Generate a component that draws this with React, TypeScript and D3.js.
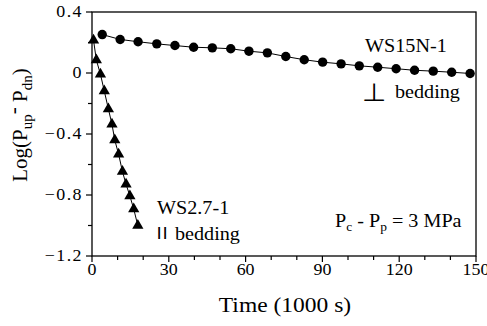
import React from "react";
import * as d3 from "d3";

// WS15N-1 (perpendicular to bedding), circles
const perpTime = [4, 11, 18, 25.3, 32.4, 39.7, 47, 54.2, 61.3, 68.5, 75.7, 82.9, 90.1, 97.3, 104.4, 111.6, 118.8, 126, 133.3, 140.5, 147.7];
const perpLog = [0.252, 0.22, 0.205, 0.191, 0.18, 0.169, 0.165, 0.159, 0.143, 0.132, 0.108, 0.087, 0.071, 0.06, 0.047, 0.038, 0.028, 0.018, 0.012, 0.005, -0.003];

// WS2.7-1 (parallel to bedding), triangles
const paraTime = [0.6, 1.7, 3.3, 4.8, 6.4, 7.8, 8.9, 10.4, 11.9, 13.3, 14.8, 16.3, 17.9];
const paraLog = [0.215, 0.085, -0.008, -0.118, -0.236, -0.336, -0.44, -0.533, -0.646, -0.73, -0.806, -0.892, -1.0];

const xTicks = [0, 30, 60, 90, 120, 150];
const yTicks = [0.4, 0, -0.4, -0.8, -1.2];
const xMinor = d3.range(0, 151, 10);
const yMinor = d3.range(-1.2, 0.41, 0.2);

const W = 487;
const H = 326;
const FONT = "Liberation Serif";
const SX = 1.12;

export default function App() {
  const x = d3.scaleLinear().domain([0, 150]).range([92, 476]);
  const y = d3.scaleLinear().domain([-1.2, 0.4]).range([256, 12]);

  const perp = perpTime.map((t, i) => [t, perpLog[i]] as [number, number]);
  const para = paraTime.map((t, i) => [t, paraLog[i]] as [number, number]);
  const line = d3
    .line<[number, number]>()
    .x((d) => x(d[0]))
    .y((d) => y(d[1]));

  const tri = d3.symbol().type(d3.symbolTriangle).size(55)();

  const txt = (
    px: number,
    py: number,
    anchor: string,
    size: number,
    children: React.ReactNode,
    fam = FONT,
    spacing = 0
  ) => (
    <text
      transform={`translate(${px},${py}) scale(${SX},1)`}
      textAnchor={anchor}
      fontSize={size}
      fontFamily={fam}
      letterSpacing={spacing}
      fill="#000"
    >
      {children}
    </text>
  );

  return (
    <svg width={W} height={H} style={{ position: "absolute", left: 0, top: 0 }}>
      <rect x={0} y={0} width={W} height={H} fill="#fff" />

      {/* frame */}
      <rect x={x(0)} y={y(0.4)} width={x(150) - x(0)} height={y(-1.2) - y(0.4)} fill="none" stroke="#000" strokeWidth={1.3} />

      {/* x ticks */}
      {xMinor.map((t) => (
        <line key={"xm" + t} x1={x(t)} x2={x(t)} y1={y(-1.2)} y2={y(-1.2) + (t % 30 === 0 ? 6 : 4)} stroke="#000" strokeWidth={1.2} />
      ))}
      {xTicks.map((t) => (
        <g key={"xl" + t}>{txt(x(t), 275, "middle", 16, t)}</g>
      ))}

      {/* y ticks */}
      {yMinor.map((v, i) => (
        <line key={"ym" + i} x1={x(0)} x2={x(0) - (i % 2 === 0 ? 6 : 4)} y1={y(v)} y2={y(v)} stroke="#000" strokeWidth={1.2} />
      ))}
      {yTicks.map((v) => (
        <g key={"yl" + v}>{txt(83, y(v) + 5, "end", 16, v === 0 ? "0" : d3.format(".1f")(v), FONT, 1.3)}</g>
      ))}

      {/* axis titles */}
      {txt(285, 312, "middle", 21, "Time  (1000 s)")}
      <text
        transform="translate(27,125) rotate(-90)"
        textAnchor="middle"
        fontSize={21}
        fontFamily={FONT}
        fill="#000"
      >
        Log(P<tspan fontSize={15} dy={5}>up</tspan>
        <tspan dy={-12}>-</tspan>
        <tspan dy={7}> P</tspan>
        <tspan fontSize={15} dy={5}>dn</tspan>
        <tspan dy={-5}>)</tspan>
      </text>

      {/* data lines */}
      <path d={line(perp) ?? ""} fill="none" stroke="#000" strokeWidth={1} />
      <path d={line(para) ?? ""} fill="none" stroke="#000" strokeWidth={1} />

      {perp.map((d, i) => (
        <circle key={"c" + i} cx={x(d[0])} cy={y(d[1])} r={4.7} fill="#000" />
      ))}
      {para.map((d, i) => (
        <path key={"t" + i} d={tri ?? ""} transform={`translate(${x(d[0])},${y(d[1])})`} fill="#000" />
      ))}

      {/* annotations */}
      {txt(365, 52, "start", 18, "WS15N-1")}
      {txt(362, 101, "start", 25, "\u22A5", "DejaVu Sans")}
      {txt(395, 98, "start", 18, "bedding")}
      {txt(157, 214, "start", 18, "WS2.7-1")}
      {txt(157, 239, "start", 17, "ll", "Liberation Sans", 1.5)}
      {txt(175, 240, "start", 18, "bedding")}
      {txt(335, 227, "start", 18, (
        <>
          P<tspan fontSize={12} dy={4}>c</tspan>
          <tspan dy={-4}> - P</tspan>
          <tspan fontSize={12} dy={4}>p</tspan>
          <tspan dy={-4}> = 3 MPa</tspan>
        </>
      ))}
    </svg>
  );
}
